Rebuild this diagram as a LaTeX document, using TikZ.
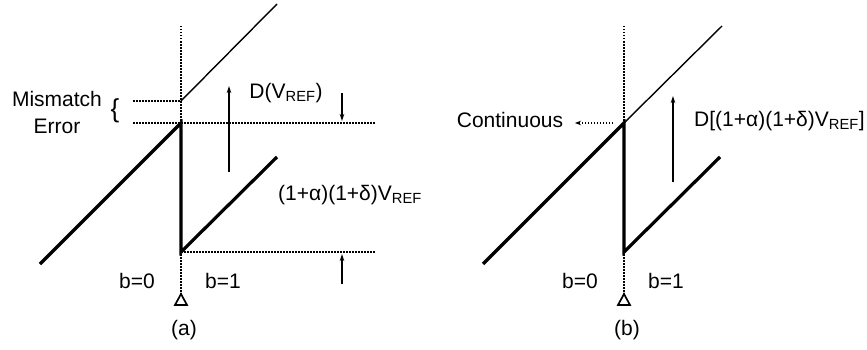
\documentclass[tikz,border=0pt]{standalone}
\usepackage{fontspec}
\setmainfont{Liberation Sans}
\usetikzlibrary{arrows.meta,positioning}

\begin{document}
\begin{tikzpicture}[
    x=1pt, y=1pt,
    thinline/.style={line width=1.4pt},
    thickline/.style={line width=3.2pt},
    dotline/.style={line width=1.6pt, dash pattern=on 1.5pt off 1.5pt},
    arr/.style={line width=1.2pt, -{Stealth[length=7pt,width=4.5pt]}},
    dotarr/.style={dotline, -{Stealth[length=6pt,width=4.5pt]}},
    lbl/.style={font=\fontsize{21}{27}\selectfont, inner sep=0pt}
  ]
    \useasboundingbox (0,0) rectangle (867,349);
    % common parts of both panels
    \foreach \p/\x/\tag in {a/0/(a), b/443/(b)} {
      \coordinate (top\p) at (181+\x,323);
      \coordinate (bot\p) at (181+\x,55);
      \coordinate (jt\p) at (181+\x,226);
      \coordinate (jb\p) at (181+\x,97);
      \draw[dotline] (top\p) -- (bot\p);
      \draw[thinline, line width=1.7pt] (175+\x,44) -- (187+\x,44) -- (bot\p) -- cycle;
      \draw[thickline] (40+\x,85) -- (jt\p) -- (jb\p) -- (277+\x,192);
      \node[lbl] (bzero\p) at (137+\x,68) {b=0};
      \node[lbl] (bone\p) at (223+\x,68) {b=1};
      \node[lbl] (cap\p) at (184+\x,19) {\tag};
    }
    % panel (a)
    \coordinate (ut) at (181,248);
    \draw[thinline] (ut) -- (277,345);
    \draw[dotline] (133,248) -- (ut);
    \draw[dotline] (133,226) -- (375,226);
    \draw[dotline] (jba) -- (375,97);
    \node[lbl] (mm) at (57,237) [align=center] {Mismatch\\Error};
    \node[lbl, font=\fontsize{26}{30}\selectfont] (brace) at (115,238) {\{};
    \coordinate (ua0) at (229,177);
    \coordinate (ua1) at (229,263);
    \draw[arr] (ua0) -- (ua1);
    \coordinate (da0) at (342,256);
    \coordinate (da1) at (342,228);
    \draw[arr] (da0) -- (da1);
    \coordinate (ba0) at (342,65);
    \coordinate (ba1) at (342,95);
    \draw[arr] (ba0) -- (ba1);
    \node[lbl] (dvref) at (286,256) {D(V\textsubscript{REF})};
    \node[lbl, anchor=west] (gain) at (278,154) {(1+α)(1+δ)V\textsubscript{REF}};
    % panel (b)
    \draw[thinline] (jtb) -- (722,323);
    \coordinate (ub0) at (673,167);
    \coordinate (ub1) at (673,253);
    \draw[arr] (ub0) -- (ub1);
    \node[lbl] (cont) at (510,229) {Continuous};
    \coordinate (ca0) at (613,226);
    \coordinate (ca1) at (575,226);
    \draw[dotarr] (ca0) -- (ca1);
    \node[lbl, anchor=west] (dgain) at (694,228) {D[(1+α)(1+δ)V\textsubscript{REF}]};
\end{tikzpicture}
\end{document}
